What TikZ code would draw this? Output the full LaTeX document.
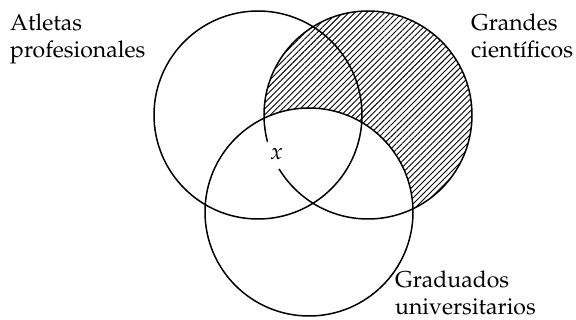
\documentclass[tikz,border=0pt]{standalone}
\usepackage[T1]{fontenc}
\usepackage{mathpazo}
\usetikzlibrary{patterns.meta}
\begin{document}
\begin{tikzpicture}[x=1pt,y=-1pt,
  set/.style={circle,draw,line width=1.5pt,minimum size=208pt,inner sep=0pt},
  lbl/.style={align=left,anchor=base west,inner sep=0pt,font=\fontsize{23}{26.5}\selectfont},
  hatch/.style={pattern={Lines[angle=45,distance=4.2pt,line width=0.9pt]}}]
\useasboundingbox (0,0) rectangle (576,320);
% hatched region: Grandes cientificos minus Graduados
\path[hatch] (368,115) circle (104);
\fill[white] (309,212) circle (104);
\node[set] (A) at (258,115) {};
\node[set] (C) at (368,115) {};
\node[set] (G) at (309,212) {};
\node[circle,fill=white,minimum size=30pt,inner sep=0pt,font=\fontsize{23}{26.5}\selectfont] (x) at (276.5,154) {$x$};
\node[lbl] (la) at (10,57.2) {Atletas\\profesionales};
\node[lbl] (lc) at (471,57.2) {Grandes\\cient\'{\i}ficos};
\node[lbl] (lg) at (395,314.3) {Graduados\\universitarios};
\end{tikzpicture}
\end{document}
